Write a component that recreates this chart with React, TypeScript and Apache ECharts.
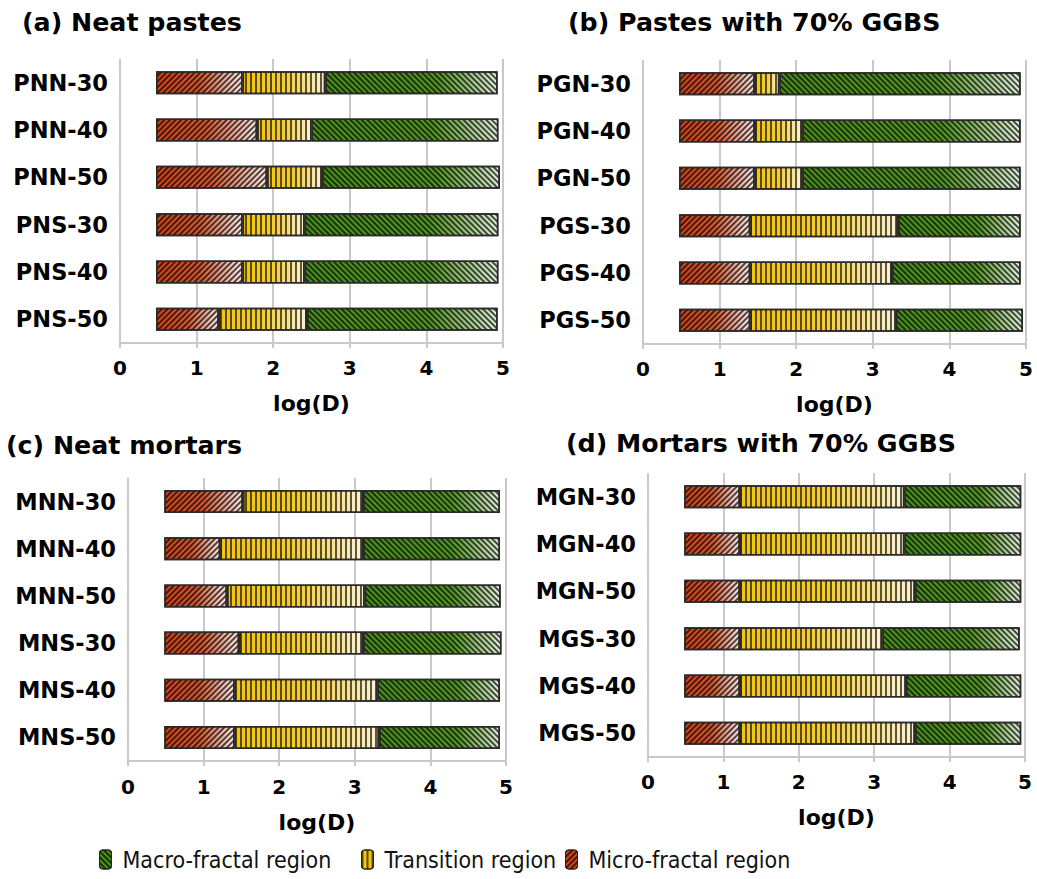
import React, { useEffect, useRef } from 'react';
import * as echarts from 'echarts';

// ---- data (log(D) boundaries) ----
const catsA = ['PNN-30', 'PNN-40', 'PNN-50', 'PNS-30', 'PNS-40', 'PNS-50'];
const startA = [0.47, 0.47, 0.47, 0.47, 0.47, 0.47];
const microEndA = [1.6, 1.79, 1.92, 1.6, 1.6, 1.29];
const transEndA = [2.68, 2.5, 2.64, 2.41, 2.41, 2.44];
const macroEndA = [4.93, 4.94, 4.96, 4.94, 4.94, 4.93];

const catsB = ['PGN-30', 'PGN-40', 'PGN-50', 'PGS-30', 'PGS-40', 'PGS-50'];
const startB = [0.47, 0.47, 0.47, 0.47, 0.47, 0.47];
const microEndB = [1.46, 1.46, 1.46, 1.4, 1.4, 1.4];
const transEndB = [1.78, 2.08, 2.08, 3.33, 3.25, 3.3];
const macroEndB = [4.93, 4.93, 4.93, 4.93, 4.93, 4.96];

const catsC = ['MNN-30', 'MNN-40', 'MNN-50', 'MNS-30', 'MNS-40', 'MNS-50'];
const startC = [0.48, 0.48, 0.48, 0.48, 0.48, 0.48];
const microEndC = [1.52, 1.22, 1.31, 1.47, 1.41, 1.41];
const transEndC = [3.11, 3.11, 3.13, 3.11, 3.3, 3.32];
const macroEndC = [4.92, 4.92, 4.93, 4.94, 4.92, 4.92];

const catsD = ['MGN-30', 'MGN-40', 'MGN-50', 'MGS-30', 'MGS-40', 'MGS-50'];
const startD = [0.48, 0.48, 0.48, 0.48, 0.48, 0.48];
const microEndD = [1.22, 1.22, 1.22, 1.22, 1.22, 1.22];
const transEndD = [3.4, 3.4, 3.54, 3.11, 3.42, 3.54];
const macroEndD = [4.95, 4.95, 4.95, 4.93, 4.95, 4.95];

const titles = ['(a) Neat pastes', '(b) Pastes with 70% GGBS', '(c) Neat mortars', '(d) Mortars with 70% GGBS'];
const xTicks = [0, 1, 2, 3, 4, 5];
const regionNames = ['Macro-fractal region', 'Transition region', 'Micro-fractal region'];

const FONT = 'DejaVu Sans';
const GRID_COLOR = '#c9c9c9';

const panels = [
  { cats: catsA, start: startA, micro: microEndA, trans: transEndA, end: macroEndA, grid: { left: 120, top: 59, width: 383, height: 284 }, title: { left: 22, top: 10 }, nameGap: 49, labelMargin: 15 },
  { cats: catsB, start: startB, micro: microEndB, trans: transEndB, end: macroEndB, grid: { left: 643, top: 60, width: 383, height: 284 }, title: { left: 568, top: 10 }, nameGap: 49, labelMargin: 15 },
  { cats: catsC, start: startC, micro: microEndC, trans: transEndC, end: macroEndC, grid: { left: 128, top: 478, width: 378, height: 283 }, title: { left: 6, top: 433 }, nameGap: 50, labelMargin: 16 },
  { cats: catsD, start: startD, micro: microEndD, trans: transEndD, end: macroEndD, grid: { left: 648, top: 473, width: 377, height: 284 }, title: { left: 566, top: 431 }, nameGap: 49, labelMargin: 15 },
];

const diff = (a: number[], b: number[]) => a.map((v, i) => +(v - b[i]).toFixed(3));

export default function App() {
  const ref = useRef<HTMLDivElement>(null);
  useEffect(() => {
    if (!ref.current) return;
    const chart = echarts.init(ref.current, undefined, { renderer: 'svg' });

    const lg = (stops: [number, string][]) =>
      new echarts.graphic.LinearGradient(0, 0, 1, 0, stops.map(([offset, color]) => ({ offset, color })));

    const microStyle = {
      color: lg([[0, '#cc4719'], [0.5, '#d25a30'], [1, '#f8eeea']]),
      borderColor: '#2a2a2a',
      borderWidth: 1.5,
      decal: { symbol: 'rect', symbolSize: 1, dashArrayX: [1, 0], dashArrayY: [1.2, 2.0], rotation: -Math.PI / 4, color: 'rgba(20,0,0,0.7)' },
    };
    const transStyle = {
      color: lg([[0, '#f2c60c'], [0.5, '#f3cd30'], [1, '#f8f2d8']]),
      borderColor: '#2a2a2a',
      borderWidth: 1.5,
      decal: { symbol: 'rect', symbolSize: 1, dashArrayX: [1.2, 3.0], dashArrayY: [10, 0], rotation: 0, color: 'rgba(30,20,0,0.7)' },
    };
    const macroStyle = {
      color: lg([[0, '#4f901c'], [0.65, '#569823'], [1, '#e6efde']]),
      borderColor: '#2a2a2a',
      borderWidth: 1.5,
      decal: { symbol: 'rect', symbolSize: 1, dashArrayX: [1, 0], dashArrayY: [1.2, 2.0], rotation: Math.PI / 4, color: 'rgba(0,10,0,0.7)' },
    };

    const series: any[] = [];
    panels.forEach((p, i) => {
      const common = { type: 'bar', xAxisIndex: i, yAxisIndex: i, stack: 'p' + i, barWidth: 23 };
      series.push({ ...common, name: 'base', data: p.start, itemStyle: { color: 'rgba(0,0,0,0)' }, silent: true, emphasis: { disabled: true } });
      series.push({ ...common, name: regionNames[2], data: diff(p.micro, p.start), itemStyle: microStyle });
      series.push({ ...common, name: regionNames[1], data: diff(p.trans, p.micro), itemStyle: transStyle });
      series.push({ ...common, name: regionNames[0], data: diff(p.end, p.trans), itemStyle: macroStyle });
    });

    const legendBase = {
      orient: 'horizontal',
      padding: 0,
      top: 848,
      itemWidth: 12,
      itemHeight: 19,
      icon: 'roundRect',
      selectedMode: false,
      textStyle: { fontFamily: 'DejaVu Sans Condensed', fontSize: 23, color: '#111', padding: [4, 0, 0, 6] },
    };

    const option: any = {
      animation: false,
      backgroundColor: '#ffffff',
      textStyle: { fontFamily: FONT },
      title: panels.map((p, i) => ({
        text: titles[i],
        left: p.title.left,
        top: p.title.top,
        padding: 0,
        textStyle: { fontFamily: FONT, fontSize: 25.3, fontWeight: 'bold', color: '#000' },
      })),
      legend: [
        { ...legendBase, left: 99, data: [regionNames[0]], itemStyle: { color: '#4f901c', borderColor: '#222', borderWidth: 1 } },
        { ...legendBase, left: 361, data: [regionNames[1]], itemStyle: { color: '#f2c60c', borderColor: '#222', borderWidth: 1 } },
        { ...legendBase, left: 565, data: [regionNames[2]], itemStyle: { color: '#cc4719', borderColor: '#222', borderWidth: 1 } },
      ],
      grid: panels.map((p) => ({ ...p.grid, containLabel: false })),
      xAxis: panels.map((p, i) => ({
        gridIndex: i,
        type: 'value',
        min: xTicks[0],
        max: xTicks[xTicks.length - 1],
        interval: 1,
        axisLine: { show: true, lineStyle: { color: GRID_COLOR, width: 2 } },
        axisTick: { show: true, length: 5, lineStyle: { color: GRID_COLOR, width: 2 } },
        splitLine: { show: true, lineStyle: { color: GRID_COLOR, width: 2 } },
        axisLabel: { fontFamily: FONT, fontSize: 20, fontWeight: 'bold', color: '#000', margin: p.labelMargin },
        name: 'log(D)',
        nameLocation: 'middle',
        nameGap: p.nameGap,
        nameTextStyle: { fontFamily: FONT, fontSize: 22, fontWeight: 'bold', color: '#000' },
      })),
      yAxis: panels.map((p, i) => ({
        gridIndex: i,
        type: 'category',
        data: p.cats,
        inverse: true,
        axisLine: { show: false },
        axisTick: { show: false },
        splitLine: { show: false },
        axisLabel: { fontFamily: FONT, fontSize: 22.5, fontWeight: 'bold', color: '#000', margin: 12 },
      })),
      series,
    };

    chart.setOption(option);
    return () => chart.dispose();
  }, []);

  return <div ref={ref} style={{ position: 'absolute', left: 0, top: 0, width: 1037, height: 879 }} />;
}
